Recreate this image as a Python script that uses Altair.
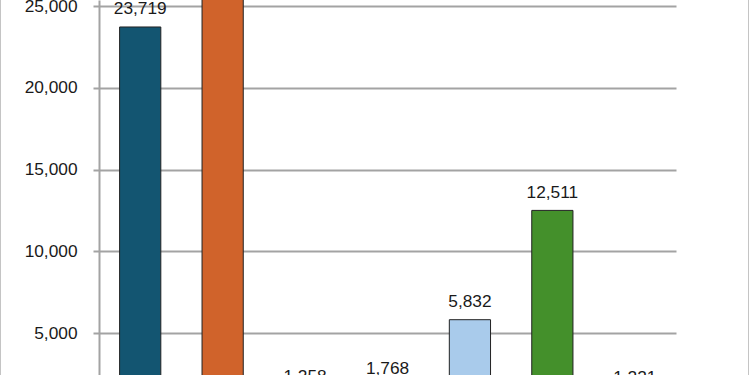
import altair as alt
import pandas as pd

categories = ["A", "B", "C", "D", "E", "F", "G"]
values = [23719, 28500, 1258, 1768, 5832, 12511, 1221]
colors = ["#135571", "#d0632b", "#7f7f7f", "#f0c03a", "#a9cbeb", "#44902b", "#5b9bd5"]
y_ticks = [5000, 10000, 15000, 20000, 25000]

df = pd.DataFrame({"cat": categories, "val": values, "color": colors})

FONT = "Liberation Sans"
GRID = "#a3a3a3"
TEXT = "#1a1a1a"

x = alt.X("cat:N", sort=categories, axis=None,
          scale=alt.Scale(paddingInner=0.5, paddingOuter=0.25))
y = alt.Y("val:Q", scale=alt.Scale(domain=[2453, 25367], zero=False, nice=False),
          axis=alt.Axis(values=y_ticks, format=",.0f", title=None, grid=True,
                        gridColor=GRID, gridWidth=2, domainColor=GRID, domainWidth=2,
                        tickColor=GRID, tickWidth=2, tickSize=6,
                        labelFont=FONT, labelFontSize=17.3, labelColor=TEXT,
                        labelPadding=16))

bars = alt.Chart(df).mark_bar(clip=True, stroke="#222222", strokeWidth=1).encode(
    x=x, y=y, y2=alt.datum(0),
    color=alt.Color("color:N", scale=None),
)

labels = alt.Chart(df).mark_text(clip=True, dy=-12.5, baseline="alphabetic",
                                 font=FONT, fontSize=17.3, color=TEXT).encode(
    x=x, y=y, text=alt.Text("val:Q", format=",")
)

border_left = alt.Chart(df).mark_rule(color="#c4c4c4", strokeWidth=1).encode(
    x=alt.value(-98.5), y=alt.value(0), y2=alt.value(375))
border_right = alt.Chart(df).mark_rule(color="#c4c4c4", strokeWidth=1).encode(
    x=alt.value(649.5), y=alt.value(0), y2=alt.value(375))

chart = alt.layer(bars, labels, border_left, border_right).properties(
    width=577, height=375,
    autosize=alt.AutoSizeParams(type="none"),
    padding={"left": 99, "top": 0, "right": 74, "bottom": 0},
    background="white",
).configure_view(stroke=None)

chart.save("out.html", embed_options={"renderer": "svg", "actions": False})
